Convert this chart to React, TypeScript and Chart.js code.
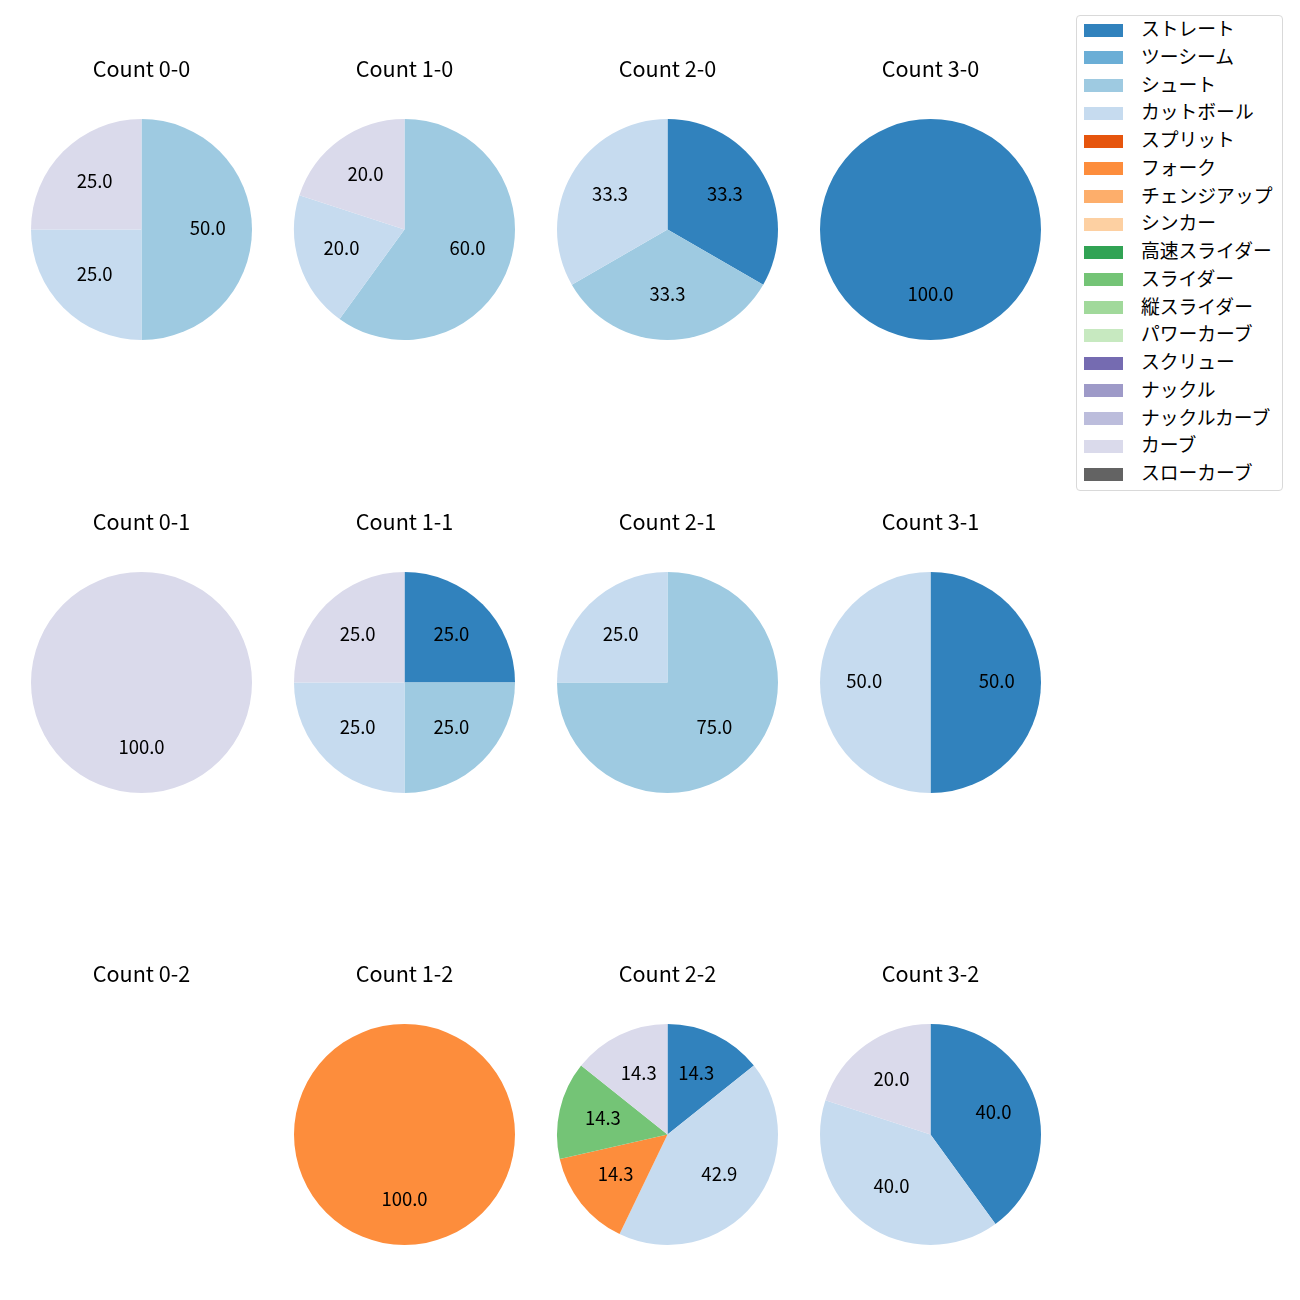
import React, { useEffect, useRef } from "react";
import { Chart, registerables } from "chart.js";

Chart.register(...registerables);

const pitchTypes = [
  "ストレート", "ツーシーム", "シュート", "カットボール", "スプリット", "フォーク",
  "チェンジアップ", "シンカー", "高速スライダー", "スライダー", "縦スライダー",
  "パワーカーブ", "スクリュー", "ナックル", "ナックルカーブ", "カーブ", "スローカーブ",
];

const pitchColors = [
  "#3182bd", "#6baed6", "#9ecae1", "#c6dbef", "#e6550d", "#fd8d3c",
  "#fdae6b", "#fdd0a2", "#31a354", "#74c476", "#a1d99b",
  "#c7e9c0", "#756bb1", "#9e9ac8", "#bcbddc", "#dadaeb", "#636363",
];

// pitch counts per ball-strike count, ordered as pitchTypes
const count00 = [0, 0, 2, 1, 0, 0, 0, 0, 0, 0, 0, 0, 0, 0, 0, 1, 0];
const count10 = [0, 0, 3, 1, 0, 0, 0, 0, 0, 0, 0, 0, 0, 0, 0, 1, 0];
const count20 = [1, 0, 1, 1, 0, 0, 0, 0, 0, 0, 0, 0, 0, 0, 0, 0, 0];
const count30 = [1, 0, 0, 0, 0, 0, 0, 0, 0, 0, 0, 0, 0, 0, 0, 0, 0];
const count01 = [0, 0, 0, 0, 0, 0, 0, 0, 0, 0, 0, 0, 0, 0, 0, 1, 0];
const count11 = [1, 0, 1, 1, 0, 0, 0, 0, 0, 0, 0, 0, 0, 0, 0, 1, 0];
const count21 = [0, 0, 3, 1, 0, 0, 0, 0, 0, 0, 0, 0, 0, 0, 0, 0, 0];
const count31 = [1, 0, 0, 1, 0, 0, 0, 0, 0, 0, 0, 0, 0, 0, 0, 0, 0];
const count02 = [0, 0, 0, 0, 0, 0, 0, 0, 0, 0, 0, 0, 0, 0, 0, 0, 0];
const count12 = [0, 0, 0, 0, 0, 1, 0, 0, 0, 0, 0, 0, 0, 0, 0, 0, 0];
const count22 = [1, 0, 0, 3, 0, 1, 0, 0, 0, 1, 0, 0, 0, 0, 0, 1, 0];
const count32 = [2, 0, 0, 2, 0, 0, 0, 0, 0, 0, 0, 0, 0, 0, 0, 1, 0];

const panelTitles = [
  ["Count 0-0", "Count 1-0", "Count 2-0", "Count 3-0"],
  ["Count 0-1", "Count 1-1", "Count 2-1", "Count 3-1"],
  ["Count 0-2", "Count 1-2", "Count 2-2", "Count 3-2"],
];
const panelData = [
  [count00, count10, count20, count30],
  [count01, count11, count21, count31],
  [count02, count12, count22, count32],
];

const FONT = '"Noto Sans CJK JP", "Noto Sans", "DejaVu Sans", sans-serif';
const colCenters = [141, 404.5, 667, 930];
const rowCenters = [229.5, 682, 1134.5];
const CW = 263;
const CH = 300;
const PIE_TOP = 69;
const PIE_D = 221;

const labelPlugin = {
  id: "pctLabels",
  afterDatasetsDraw(chart: any) {
    const ctx = chart.ctx;
    const ds = chart.data.datasets[0];
    const vals: number[] = ds.data;
    const total = vals.reduce((a, b) => a + b, 0);
    if (!total) return;
    const meta = chart.getDatasetMeta(0);
    ctx.save();
    ctx.font = `18.5px ${FONT}`;
    ctx.fillStyle = "#000";
    ctx.textAlign = "center";
    ctx.textBaseline = "middle";
    meta.data.forEach((arc: any, i: number) => {
      if (!vals[i]) return;
      const p = arc.getProps(["x", "y", "startAngle", "endAngle", "outerRadius"], true);
      const mid = (p.startAngle + p.endAngle) / 2;
      const r = p.outerRadius * 0.6;
      const txt = ((vals[i] / total) * 100).toFixed(1);
      ctx.fillText(txt, p.x + Math.cos(mid) * r, p.y + Math.sin(mid) * r - 2);
    });
    ctx.restore();
  },
};

const titlePlugin = {
  id: "panelTitle",
  afterDraw(chart: any) {
    const t = chart.options.plugins.panelTitle?.text;
    if (!t) return;
    const ctx = chart.ctx;
    ctx.save();
    ctx.font = `21.6px ${FONT}`;
    ctx.fillStyle = "#000";
    ctx.textAlign = "center";
    ctx.textBaseline = "middle";
    ctx.fillText(t, chart.width / 2, 19);
    ctx.restore();
  },
};

function PiePanel({ title, data, cx, cy }: { title: string; data: number[]; cx: number; cy: number }) {
  const ref = useRef<HTMLCanvasElement>(null);
  useEffect(() => {
    if (!ref.current) return;
    const chart = new Chart(ref.current, {
      type: "pie",
      data: {
        labels: pitchTypes,
        datasets: [
          {
            data: data,
            backgroundColor: pitchColors,
            borderWidth: 0,
          },
        ],
      },
      options: {
        responsive: false,
        animation: false,
        layout: { padding: { top: PIE_TOP, bottom: CH - PIE_TOP - PIE_D, left: 0, right: 0 } },
        plugins: {
          legend: { display: false },
          tooltip: { enabled: false },
          title: { display: false },
          panelTitle: { text: title },
        } as any,
      },
      plugins: [labelPlugin, titlePlugin],
    });
    return () => chart.destroy();
  }, [title, data]);
  return (
    <canvas
      ref={ref}
      width={CW}
      height={CH}
      style={{ position: "absolute", left: cx - CW / 2, top: cy - PIE_D / 2 - PIE_TOP, width: CW, height: CH }}
    />
  );
}

export default function App() {
  return (
    <div style={{ position: "absolute", left: 0, top: 0, width: 1300, height: 1300, background: "#fff", overflow: "hidden" }}>
      {panelTitles.map((row, r) =>
        row.map((t, c) => (
          <PiePanel key={t} title={t} data={panelData[r][c]} cx={colCenters[c]} cy={rowCenters[r]} />
        ))
      )}
      <div
        style={{
          position: "absolute",
          left: 1076,
          top: 15,
          width: 205,
          height: 474,
          border: "1px solid #d9d9d9",
          borderRadius: 4,
          boxSizing: "content-box",
          fontFamily: FONT,
          fontSize: "18.8px",
          color: "#000",
        }}
      >
        {pitchTypes.map((p, i) => (
          <div
            key={p}
            style={{ position: "absolute", left: 0, top: 14 + i * 27.75 - 14, height: 28, width: 205 }}
          >
            <div
              style={{
                position: "absolute",
                left: 7,
                top: 7.5,
                width: 39,
                height: 13,
                background: pitchColors[i],
              }}
            />
            <div
              style={{
                position: "absolute",
                left: 64,
                top: -2,
                height: 28,
                lineHeight: "28px",
                whiteSpace: "nowrap",
              }}
            >
              {p}
            </div>
          </div>
        ))}
      </div>
    </div>
  );
}
